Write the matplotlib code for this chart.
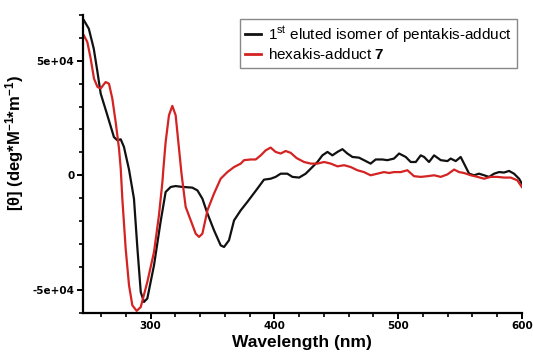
import matplotlib
matplotlib.use("Agg")
import matplotlib.pyplot as plt
from matplotlib.ticker import FixedLocator, FixedFormatter, MultipleLocator

# CD spectra: wavelength (nm) and molar ellipticity (x1e3 deg M^-1 m^-1)
penta_wl = [246, 250, 254, 257, 259.6, 265, 270.3, 273, 275.8, 278.4, 282.5, 286.5,
            289.3, 292, 294.6, 297.3, 302.7, 308, 312.1, 316.2, 320.2, 324.3, 333.7,
            337.8, 341.8, 345.9, 351.2, 356.6, 359.3, 363.3, 367.4, 372.8, 378.2,
            386.3, 391.6, 397, 401, 405.1, 410.5, 414.6, 420, 425.3, 429.4, 434.8,
            438.8, 442.9, 446.9, 451, 455, 459, 463.1, 468.4, 472.4, 477.8, 481.9,
            487.3, 491.3, 496.7, 500.8, 506.2, 510.2, 514.3, 518.3, 521, 525, 529.1,
            534.5, 539.9, 542.5, 546.6, 550.6, 553.3, 557.4, 561.4, 565.4, 569.5,
            573.5, 577.6, 581.6, 585.6, 589.7, 593.7, 597.8, 600]
penta_theta = [67.7, 64, 55.3, 45.1, 35.7, 26.2, 16.7, 15.3, 15.7, 12.4, 2.5, -10.2,
               -32, -51, -55.3, -53.8, -39.3, -20.4, -7.3, -5.1, -4.7, -5.0, -5.4,
               -6.6, -10.2, -16.7, -24, -30.6, -31.3, -28.4, -19.7, -15.3, -11.6,
               -5.8, -1.9, -1.5, -0.7, 0.7, 0.7, -0.7, -1.0, 0.7, 2.9, 5.8,
               8.7, 10.2, 8.7, 10.2, 11.4, 9.5, 8.0, 7.7, 6.6, 5.1, 6.9,
               6.9, 6.6, 7.3, 9.5, 8.0, 5.8, 5.8, 8.7, 8.0, 5.8, 8.7,
               6.6, 6.2, 7.3, 6.2, 8.0, 5.1, 0.7, 0, 0.7, 0,
               -0.7, 0.7, 1.4, 1.2, 1.9, 0.7, -1.5, -3.6]

hexa_wl = [246, 248.8, 251.5, 254.2, 257, 259.6, 263.6, 266.3, 269, 271.7, 274.4,
           275.8, 277.1, 279.8, 282.5, 285.2, 288.7, 292, 297.3, 302.7, 306.7, 309.5,
           310.3, 312.1, 314.8, 317.5, 320.2, 322.9, 324.8, 325.6, 328.3, 332.4,
           336.4, 339.1, 341.8, 345.9, 351.2, 356.6, 362, 367.4, 372.8, 375.5, 380.9,
           384.9, 389, 393, 397, 401, 405.1, 409.1, 413.2, 418, 424, 429.4, 434.8,
           440.2, 445.6, 451, 456.4, 461.7, 467.1, 472.4, 477.8, 483.2, 488.6, 492.7,
           496.7, 502.1, 507.5, 512.9, 518.3, 523.7, 529.1, 534.5, 539.9, 545.3,
           549.3, 553.3, 558.8, 564.2, 569.5, 574.9, 580.3, 585.6, 591, 596.4, 600]
hexa_theta = [61.1, 58.2, 51, 42.2, 38.6, 37.9, 40.7, 40, 33.5, 23.3, 11.7,
              3, -10.2, -32, -48, -56.8, -59.2, -57.5, -46.6, -33.5, -17.5, -2.9,
              2.9, 14.5, 26.2, 30.3, 26.2, 11.7, 1.4, -2.2, -13.8, -19.7,
              -25.5, -26.9, -25.5, -15.3, -8.0, -1.5, 1.4, 3.6, 5.1, 6.6, 6.9,
              6.9, 8.7, 10.9, 12.1, 10.2, 9.5, 10.6, 9.8, 7.5, 5.8, 5.1, 5.1,
              5.8, 5.1, 3.9, 4.4, 3.6, 2.2, 1.4, 0, 0.7, 1.4, 1.0,
              1.4, 1.4, 2.2, -0.4, -0.7, -0.4, 0, -0.7, 0.4, 2.5,
              1.4, 1.0, 0, -0.7, -1.5, -0.7, -0.7, -1.0, -1.0, -2.2, -5.1]

series_labels = [r"1$^{\mathrm{st}}$ eluted isomer of pentakis-adduct",
                 r"hexakis-adduct $\mathbf{7}$"]
x_major = [300, 400, 500, 600]
x_major_labels = ["300", "400", "500", "600"]
y_major = [-50000, 0, 50000]
y_major_labels = ["-5e+04", "0", "5e+04"]

plt.rcParams["mathtext.fontset"] = "custom"
plt.rcParams["mathtext.rm"] = "Liberation Sans"
plt.rcParams["mathtext.bf"] = "Liberation Sans:bold"
plt.rcParams["mathtext.it"] = "Liberation Sans:italic"

fig = plt.figure(figsize=(5.33, 3.56), dpi=100)
ax = fig.add_axes([0.155, 0.1216, 0.824, 0.8364])

scale = 1000.0
ax.plot(penta_wl, [v * scale for v in penta_theta], color="#111111", lw=1.6,
        label=series_labels[0])
ax.plot(hexa_wl, [v * scale for v in hexa_theta], color="#d42323", lw=1.6,
        label=series_labels[1])

ax.set_xlim(245, 600)
ax.set_ylim(-60000, 70000)

for s in ("top", "right"):
    ax.spines[s].set_visible(False)
for s in ("left", "bottom"):
    ax.spines[s].set_linewidth(1.6)

ax.xaxis.set_major_locator(FixedLocator(x_major))
ax.xaxis.set_major_formatter(FixedFormatter(x_major_labels))
ax.xaxis.set_minor_locator(MultipleLocator(20))
ax.yaxis.set_major_locator(FixedLocator(y_major))
ax.yaxis.set_major_formatter(FixedFormatter(y_major_labels))
ax.yaxis.set_minor_locator(MultipleLocator(10000))

ax.tick_params(which="major", direction="out", length=4, width=1.4, pad=2)
ax.tick_params(which="minor", direction="out", length=3, width=1.2)
for lab in ax.get_xticklabels() + ax.get_yticklabels():
    lab.set_fontfamily("DejaVu Sans")
    lab.set_fontweight("bold")
    lab.set_fontsize(7.5)

ax.set_xlabel("Wavelength (nm)", family="Liberation Sans", weight="bold",
              fontsize=12.5, labelpad=3)
ax.set_ylabel(r"[θ] (deg*M$^{\mathbf{-1}}$*m$^{\mathbf{-1}}$)",
              family="Liberation Sans", weight="bold", fontsize=12, labelpad=10)
ax.yaxis.set_label_coords(-0.128, 0.57)

leg = ax.legend(loc="upper right", bbox_to_anchor=(0.99, 0.986), borderaxespad=0,
                prop={"family": "Liberation Sans", "size": 11},
                handlelength=1.0, handletextpad=0.5, labelspacing=0.15,
                borderpad=0.35, fancybox=False, framealpha=1)
leg.get_frame().set_edgecolor("#888888")
leg.get_frame().set_linewidth(1.0)
for line in leg.get_lines():
    line.set_linewidth(2.0)

fig.savefig("out.png", dpi=100)
